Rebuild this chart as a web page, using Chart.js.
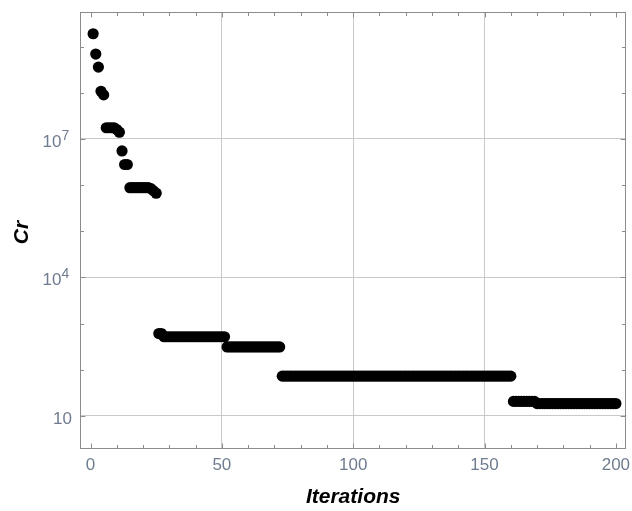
<!DOCTYPE html>
<html>
<head>
<meta charset="utf-8">
<script src="https://cdn.jsdelivr.net/npm/chart.js@4/dist/chart.umd.min.js"></script>
<style>
  html, body { margin: 0; padding: 0; background: #ffffff; }
  canvas { display: block; }
</style>
</head>
<body>
<canvas id="chart" width="632" height="511"></canvas>
<script>
// Cr per iteration, stored as runs of equal value: first iteration, last iteration, Cr
const runFirst = [1, 2, 3, 4, 5, 6, 10, 11, 12, 13, 15, 23, 24, 25, 26, 28, 52, 73, 161, 170];
const runLast  = [1, 2, 3, 4, 5, 9, 10, 11, 12, 14, 22, 23, 24, 25, 27, 51, 72, 160, 169, 200];
const runCr    = [1.9e9, 6.9e8, 3.6e8, 1.08e8, 9.0e7, 1.75e7, 1.6e7, 1.4e7, 5.5e6, 2.8e6,
                  8.8e5, 8.4e5, 7.5e5, 6.7e5, 610, 520, 313, 73, 20.7, 18.6];

// axis ticks
const xMajorTicks = [0, 50, 100, 150, 200];
const xMinorStep = 10;
const yDecades = [1, 2, 3, 4, 5, 6, 7, 8, 9];
const yLabelExponents = [1, 4, 7];

const xAxisTitle = 'Iterations';
const yAxisTitle = 'Cr';

// expand the runs into one point per iteration
const points = [];
runFirst.forEach((first, k) => {
  for (let it = first; it <= runLast[k]; it++) points.push({ x: it, y: runCr[k] });
});

const FRAME = '#8c8c8c';
const GRID = '#c9c9c9';
const LABEL = '#6f7b8f';
const FONT = '"Liberation Sans", Arial, sans-serif';

const isGridX = v => xMajorTicks.includes(v) && v !== xMajorTicks[0] && v !== xMajorTicks[xMajorTicks.length - 1];
const isGridY = v => yLabelExponents.some(e => Math.abs(Math.log10(v) - e) < 1e-6);

const framePlugin = {
  id: 'frameAndLabels',
  afterDraw(chart) {
    const { ctx, chartArea: a, scales: { x, y } } = chart;
    const L = Math.round(a.left) + 0.5, R = Math.round(a.right) - 0.5;
    const T = Math.round(a.top) + 0.5, B = Math.round(a.bottom) - 0.5;
    ctx.save();

    // inward tick marks on all four sides
    ctx.strokeStyle = FRAME;
    ctx.lineWidth = 1;
    ctx.beginPath();
    for (let v = xMajorTicks[0]; v <= xMajorTicks[xMajorTicks.length - 1]; v += xMinorStep) {
      const px = Math.round(x.getPixelForValue(v)) + 0.5;
      const len = xMajorTicks.includes(v) ? 5 : 3.5;
      ctx.moveTo(px, B); ctx.lineTo(px, B - len);
      ctx.moveTo(px, T); ctx.lineTo(px, T + len);
    }
    yDecades.forEach(e => {
      const py = Math.round(y.getPixelForValue(Math.pow(10, e))) + 0.5;
      const len = yLabelExponents.includes(e) ? 5 : 3.5;
      ctx.moveTo(L, py); ctx.lineTo(L + len, py);
      ctx.moveTo(R, py); ctx.lineTo(R - len, py);
    });
    ctx.stroke();

    // frame
    ctx.strokeRect(L, T, R - L, B - T);

    // x tick labels
    ctx.fillStyle = LABEL;
    ctx.font = '17px ' + FONT;
    ctx.textAlign = 'center';
    ctx.textBaseline = 'alphabetic';
    xMajorTicks.forEach(v => {
      ctx.fillText(String(v), x.getPixelForValue(v), a.bottom + 21);
    });

    // y tick labels, powers of ten with a raised exponent
    yLabelExponents.forEach(e => {
      const py = y.getPixelForValue(Math.pow(10, e));
      if (e === 1) {
        ctx.font = '17px ' + FONT;
        ctx.textAlign = 'right';
        ctx.fillText('10', 72, py + 7.6);
      } else {
        ctx.font = '17px ' + FONT;
        ctx.textAlign = 'right';
        ctx.fillText('10', 61.5, py + 7.7);
        ctx.font = '14px ' + FONT;
        ctx.textAlign = 'left';
        ctx.fillText(String(e), 61.5, py + 1);
      }
    });

    // axis titles
    ctx.fillStyle = '#000000';
    ctx.font = 'italic bold 21px ' + FONT;
    ctx.textAlign = 'center';
    ctx.fillText(xAxisTitle, (a.left + a.right) / 2, 503);
    ctx.translate(28, (a.top + a.bottom) / 2 + 2);
    ctx.rotate(-Math.PI / 2);
    ctx.fillText(yAxisTitle, 0, 0);
    ctx.restore();
  }
};

new Chart(document.getElementById('chart'), {
  type: 'scatter',
  data: {
    datasets: [{
      data: points,
      backgroundColor: '#000000',
      borderColor: '#000000',
      borderWidth: 0,
      pointRadius: 5.6,
      pointHoverRadius: 5.6,
      showLine: false
    }]
  },
  options: {
    responsive: false,
    animation: false,
    devicePixelRatio: 1,
    layout: { padding: { left: 80, top: 12, right: 3, bottom: 62 } },
    plugins: { legend: { display: false }, tooltip: { enabled: false } },
    events: [],
    scales: {
      x: {
        type: 'linear',
        min: -4,
        max: 204,
        afterBuildTicks: s => {
          const t = [];
          for (let v = xMajorTicks[0]; v <= xMajorTicks[xMajorTicks.length - 1]; v += xMinorStep) t.push({ value: v });
          s.ticks = t;
        },
        ticks: { display: false },
        border: { display: false },
        grid: {
          drawTicks: false,
          lineWidth: 1,
          color: c => (c.tick && isGridX(c.tick.value)) ? GRID : 'rgba(0,0,0,0)'
        },
        title: { display: false }
      },
      y: {
        type: 'logarithmic',
        min: Math.pow(10, 0.285),
        max: Math.pow(10, 9.75),
        afterBuildTicks: s => { s.ticks = yDecades.map(e => ({ value: Math.pow(10, e) })); },
        ticks: { display: false },
        border: { display: false },
        grid: {
          drawTicks: false,
          lineWidth: 1,
          color: c => (c.tick && isGridY(c.tick.value)) ? GRID : 'rgba(0,0,0,0)'
        },
        title: { display: false }
      }
    }
  },
  plugins: [framePlugin]
});
</script>
</body>
</html>
